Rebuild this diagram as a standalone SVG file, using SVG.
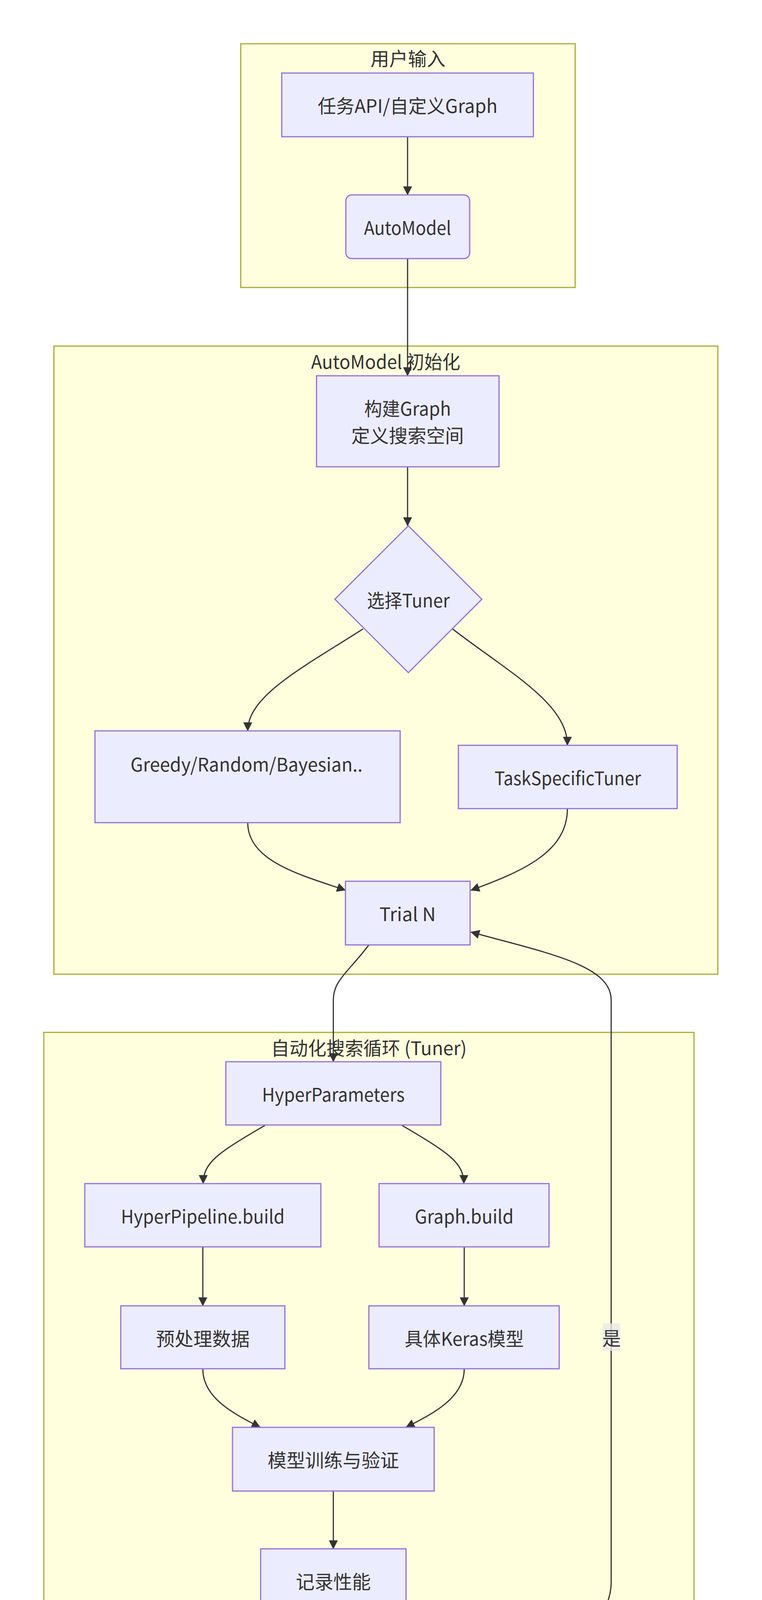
<svg xmlns="http://www.w3.org/2000/svg" width="1950" height="6262" viewBox="0 0 1950 6262">
<style>
.cluster rect{fill:#ffffde;stroke:#aaaa33;stroke-width:3}
.node rect,.node polygon{fill:#ececff;stroke:#9370db;stroke-width:3}
text{font-family:"Noto Sans CJK SC","Noto Sans",sans-serif;font-size:48px;fill:#333;text-anchor:middle;dominant-baseline:central}
.edges path{fill:none;stroke:#333;stroke-width:3;marker-end:url(#arr)}
.lbl rect{fill:#e8e8e8;fill-opacity:0.8}
</style>
<defs>
<marker id="arr" viewBox="0 0 10 10" refX="9.5" refY="5" markerUnits="userSpaceOnUse" markerWidth="23" markerHeight="23" orient="auto">
<path d="M0,0 L10,5 L0,10 z" fill="#333"/>
</marker>
</defs>
<rect width="1950" height="6262" fill="#fff"/>
<g id="clusters">
<g class="cluster" id="c_input"><rect x="616" y="112" width="856" height="624"/><text x="1044" y="147">用户输入</text></g>
<g class="cluster" id="c_init"><rect x="138" y="886" width="1699" height="1608"/><text x="987" y="923" textLength="382" lengthAdjust="spacingAndGlyphs">AutoModel 初始化</text></g>
<g class="cluster" id="c_tuner"><rect x="112" y="2643" width="1664" height="2466"/><text x="944" y="2680" textLength="501" lengthAdjust="spacingAndGlyphs">自动化搜索循环 (Tuner)</text></g>
<g class="cluster" id="c_out"><rect x="304" y="5259" width="1469" height="891"/><text x="1038" y="5293">模型输出</text></g>
</g>
<g class="edges" id="edges">
<path d="M1043,350 L1043,499"/>
<path d="M1043,662 L1043,962"/>
<path d="M1043,1195 L1043,1346"/>
<path d="M929,1610 C780,1706 634,1780 634,1871"/>
<path d="M1158,1610 C1300,1720 1452,1800 1452,1908"/>
<path d="M634,2106 C634,2205 770,2240 884,2279"/>
<path d="M1452,2070 C1452,2180 1340,2230 1205,2279"/>
<path d="M944,2419 C890,2490 853,2510 853,2560 L853,2718"/>
<path d="M678,2881 C560,2950 520,2975 520,3030"/>
<path d="M1029,2881 C1145,2950 1187,2975 1187,3030"/>
<path d="M519,3192 L519,3343"/>
<path d="M1188,3192 L1188,3343"/>
<path d="M519,3504 C519,3580 600,3620 666,3654"/>
<path d="M1188,3504 C1188,3580 1105,3620 1039,3654"/>
<path d="M853,3817 L853,3965"/>
<path d="M853,4127 C853,4230 920,4290 964,4356"/>
<path d="M1171,4401 C1400,4250 1564,4180 1564,4050 L1564,2560 C1564,2470 1400,2440 1205,2386"/>
<path d="M1043,4650 L1043,4872"/>
<path d="M859,5034 C740,5090 692,5120 692,5190 L692,5334"/>
<path d="M1227,5034 C1346,5090 1394,5120 1394,5190 L1394,5334"/>
<path d="M692,5496 C692,5580 770,5610 848,5646"/>
<path d="M1394,5496 C1394,5580 1316,5610 1238,5646"/>
<path d="M1043,5808 L1043,5958"/>
</g>
<g id="edge-labels">
<g class="lbl"><rect x="1542" y="3388" width="45" height="70"/><text x="1565" y="3423">是</text></g>
<g class="lbl"><rect x="1020" y="4725" width="48" height="72"/><text x="1044" y="4761">否</text></g>
</g>
<g class="node" id="n_api"><rect x="721" y="187" width="644" height="163"/><text x="1043" y="268" textLength="460" lengthAdjust="spacingAndGlyphs">任务API/自定义Graph</text></g>
<g class="node" id="n_automodel"><rect x="885" y="499" width="317" height="163" rx="15" ry="15"/><text x="1043" y="580" textLength="223" lengthAdjust="spacingAndGlyphs">AutoModel</text></g>
<g class="node" id="n_build"><rect x="810" y="962" width="467" height="233"/><text x="1043" y="1043" textLength="222" lengthAdjust="spacingAndGlyphs">构建Graph</text><text x="1043" y="1112">定义搜索空间</text></g>
<g class="node" id="n_tuner"><polygon points="1045,1346 1233,1534 1045,1722 857,1534"/><text x="1045" y="1534" textLength="212" lengthAdjust="spacingAndGlyphs">选择Tuner</text></g>
<g class="node" id="n_greedy"><rect x="243" y="1871" width="781" height="235"/><text x="631" y="1954" textLength="594" lengthAdjust="spacingAndGlyphs">Greedy/Random/Bayesian..</text></g>
<g class="node" id="n_task"><rect x="1173" y="1908" width="560" height="162"/><text x="1453" y="1989" textLength="375" lengthAdjust="spacingAndGlyphs">TaskSpecificTuner</text></g>
<g class="node" id="n_trial"><rect x="884" y="2256" width="319" height="163"/><text x="1043" y="2337">Trial N</text></g>
<g class="node" id="n_hp"><rect x="578" y="2718" width="550" height="162"/><text x="853" y="2799" textLength="365" lengthAdjust="spacingAndGlyphs">HyperParameters</text></g>
<g class="node" id="n_hpipe"><rect x="217" y="3030" width="604" height="162"/><text x="519" y="3111" textLength="419" lengthAdjust="spacingAndGlyphs">HyperPipeline.build</text></g>
<g class="node" id="n_gbuild"><rect x="970" y="3030" width="435" height="162"/><text x="1188" y="3111" textLength="253" lengthAdjust="spacingAndGlyphs">Graph.build</text></g>
<g class="node" id="n_pre"><rect x="309" y="3343" width="420" height="161"/><text x="519" y="3424">预处理数据</text></g>
<g class="node" id="n_keras"><rect x="944" y="3343" width="487" height="161"/><text x="1188" y="3424" textLength="305" lengthAdjust="spacingAndGlyphs">具体Keras模型</text></g>
<g class="node" id="n_train"><rect x="595" y="3654" width="516" height="163"/><text x="853" y="3735">模型训练与验证</text></g>
<g class="node" id="n_record"><rect x="667" y="3965" width="372" height="162"/><text x="853" y="4046">记录性能</text></g>
<g class="node" id="n_cont"><polygon points="1045,4278 1231,4464 1045,4650 859,4464"/><text x="1045" y="4462" textLength="209" lengthAdjust="spacingAndGlyphs">是否继续?</text></g>
<g class="node" id="n_best"><rect x="810" y="4872" width="467" height="162"/><text x="1043" y="4952" textLength="282" lengthAdjust="spacingAndGlyphs">选择最佳Trial</text></g>
<g class="node" id="n_final"><rect x="409" y="5334" width="565" height="162"/><text x="691" y="5415">最终训练最佳模型</text></g>
<g class="node" id="n_save"><rect x="1123" y="5334" width="545" height="162"/><text x="1395" y="5415" textLength="362" lengthAdjust="spacingAndGlyphs">保存最佳Pipeline</text></g>
<g class="node" id="n_export"><rect x="776" y="5646" width="534" height="162"/><text x="1043" y="5727" textLength="350" lengthAdjust="spacingAndGlyphs">导出Keras Model</text></g>
<g class="node" id="n_done"><rect x="957" y="5958" width="171" height="116" rx="58" ry="58"/><text x="1043" y="6016">完成</text></g>
</svg>
